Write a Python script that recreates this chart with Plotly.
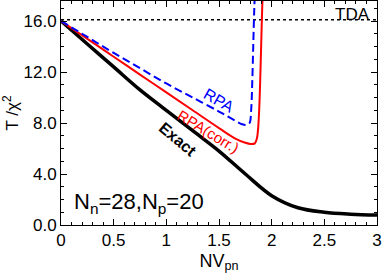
import plotly.graph_objects as go

# ---- data ----
tda_x = [0.0, 3.0]
tda_y = [16.1, 16.1]

exact_x = [0.0, 0.25, 0.5, 0.75, 1.0, 1.25, 1.5, 1.75, 2.0, 2.25, 2.5, 2.75, 3.0]
exact_y = [16.0, 14.2, 12.4, 10.6, 9.0, 7.4, 5.8, 4.0, 2.3, 1.35, 1.0, 0.85, 0.78]

rpa_corr_x = [0.0, 0.25, 0.5, 0.75, 1.0, 1.25, 1.5, 1.65, 1.75, 1.8, 1.84, 1.86, 1.875, 1.89, 1.9, 1.91, 1.92]
rpa_corr_y = [16.0, 14.6, 13.2, 11.8, 10.4, 9.0, 7.6, 6.8, 6.45, 6.35, 6.4, 6.8, 8.0, 11.0, 14.0, 17.0, 19.0]

rpa_x = [0.0, 0.25, 0.5, 0.75, 1.0, 1.25, 1.5, 1.65, 1.72, 1.76, 1.79, 1.805, 1.815, 1.825, 1.835, 1.845]
rpa_y = [16.0, 14.75, 13.5, 12.3, 11.1, 10.0, 8.9, 8.2, 7.9, 7.85, 8.0, 9.0, 11.0, 14.0, 17.0, 19.0]

x_ticks = [0, 0.5, 1, 1.5, 2, 2.5, 3]
x_tick_labels = ["0", "0.5", "1", "1.5", "2", "2.5", "3"]
y_ticks = [0.0, 4.0, 8.0, 12.0, 16.0]
y_tick_labels = ["0.0", "4.0", "8.0", "12.0", "16.0"]

FONT = "Liberation Sans, Arial, sans-serif"

fig = go.Figure()
fig.add_trace(go.Scatter(x=tda_x, y=tda_y, mode="lines",
                         line=dict(color="black", width=1.3, dash="dot")))
fig.add_trace(go.Scatter(x=exact_x, y=exact_y, mode="lines", line_shape="spline",
                         line=dict(color="black", width=3.5)))
fig.add_trace(go.Scatter(x=rpa_corr_x, y=rpa_corr_y, mode="lines", line_shape="spline",
                         line=dict(color="#ff0000", width=2)))
fig.add_trace(go.Scatter(x=rpa_x, y=rpa_y, mode="lines", line_shape="spline",
                         line=dict(color="#0000ff", width=2, dash="8px,4px")))

ann = [
    dict(x=2.77, y=16.55, text="TDA", font=dict(size=17, color="black", family=FONT), textangle=0),
    dict(x=1.50, y=9.8, text="RPA", font=dict(size=16, color="#0000ff", family=FONT), textangle=30),
    dict(x=1.40, y=7.35, text="RPA(corr.)", font=dict(size=15, color="#ff0000", family=FONT), textangle=31),
    dict(x=1.11, y=6.7, text="<b>Exact</b>", font=dict(size=16, color="black", family=FONT), textangle=40),
]
for a in ann:
    fig.add_annotation(xref="x", yref="y", showarrow=False, xanchor="center", yanchor="middle", **a)
fig.add_annotation(xref="x", yref="y", x=0.10, y=1.75, showarrow=False, xanchor="left",
                   yanchor="middle", text="N<sub>n</sub>=28,N<sub>p</sub>=20",
                   font=dict(size=22, color="black", family=FONT))

axis_common = dict(showline=True, linecolor="black", linewidth=1, mirror="allticks",
                   ticks="inside", ticklen=6, tickcolor="black", tickwidth=1,
                   showgrid=False, zeroline=False, automargin=False,
                   tickfont=dict(size=17, color="black", family=FONT))

fig.update_xaxes(range=[0, 3], tickvals=x_ticks, ticktext=x_tick_labels,
                 minor=dict(dtick=0.1, ticks="inside", ticklen=3, tickcolor="black", showgrid=False),
                 title=dict(text="NV<sub>pn</sub>", font=dict(size=18, color="black", family=FONT), standoff=4),
                 **axis_common)
fig.update_yaxes(range=[0, 17.57], tickvals=y_ticks, ticktext=y_tick_labels,
                 minor=dict(dtick=1.0, ticks="inside", ticklen=3, tickcolor="black", showgrid=False),
                 title=dict(text="T /χ<sup>2</sup>", font=dict(size=17, color="black", family=FONT), standoff=2),
                 **axis_common)

fig.update_layout(width=382, height=275, margin=dict(l=61, r=5, t=1, b=50),
                  plot_bgcolor="white", paper_bgcolor="white", showlegend=False,
                  font=dict(family=FONT))

fig.write_html("out.html", config={"displayModeBar": False},
               post_script="document.body.style.margin='0px';document.body.style.overflow='hidden';")
